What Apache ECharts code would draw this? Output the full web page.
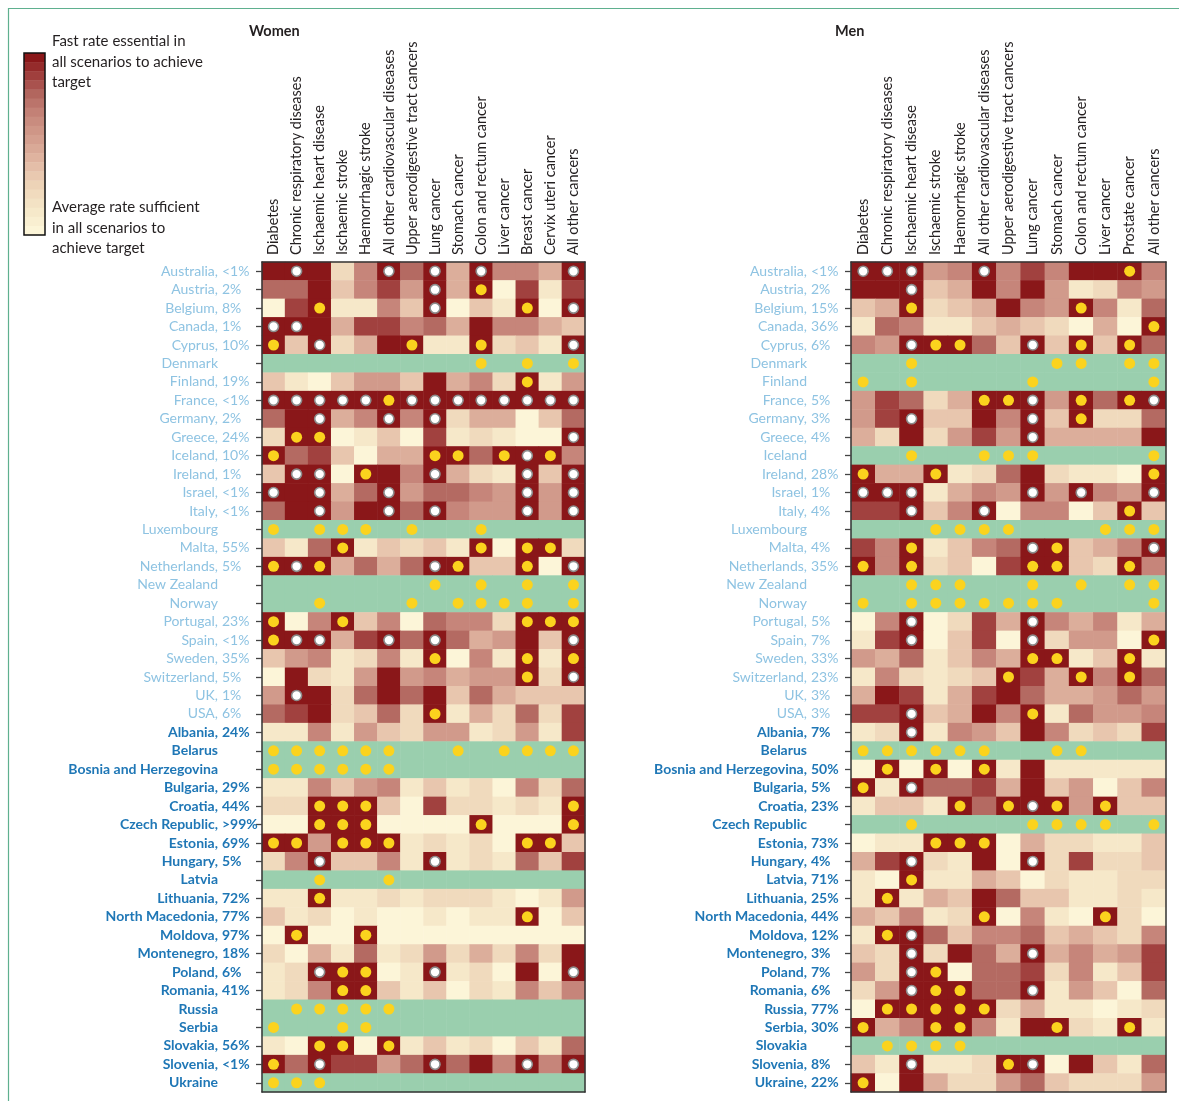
<!DOCTYPE html>
<html>
<head>
<meta charset="utf-8">
<script src="https://cdn.jsdelivr.net/npm/echarts@6/dist/echarts.min.js"></script>
<style>
  html, body { margin: 0; padding: 0; background: #fff; }
  #chart { width: 1179px; height: 1101px; }
</style>
</head>
<body>
<div id="chart"></div>
<script>
// causes (columns)
const womenCauses = ['Diabetes', 'Chronic respiratory diseases', 'Ischaemic heart disease', 'Ischaemic stroke',
  'Haemorrhagic stroke', 'All other cardiovascular diseases', 'Upper aerodigestive tract cancers', 'Lung cancer',
  'Stomach cancer', 'Colon and rectum cancer', 'Liver cancer', 'Breast cancer', 'Cervix uteri cancer', 'All other cancers']
const menCauses = ['Diabetes', 'Chronic respiratory diseases', 'Ischaemic heart disease', 'Ischaemic stroke',
  'Haemorrhagic stroke', 'All other cardiovascular diseases', 'Upper aerodigestive tract cancers', 'Lung cancer',
  'Stomach cancer', 'Colon and rectum cancer', 'Liver cancer', 'Prostate cancer', 'All other cancers']

// country labels (rows); first 25 are high-income countries
const highIncomeCount = 25
const womenLabels = ['Australia, <1%', 'Austria, 2%', 'Belgium, 8%', 'Canada, 1%', 'Cyprus, 10%', 'Denmark',
  'Finland, 19%', 'France, <1%', 'Germany, 2%', 'Greece, 24%', 'Iceland, 10%', 'Ireland, 1%', 'Israel, <1%',
  'Italy, <1%', 'Luxembourg', 'Malta, 55%', 'Netherlands, 5%', 'New Zealand', 'Norway', 'Portugal, 23%',
  'Spain, <1%', 'Sweden, 35%', 'Switzerland, 5%', 'UK, 1%', 'USA, 6%', 'Albania, 24%', 'Belarus',
  'Bosnia and Herzegovina', 'Bulgaria, 29%', 'Croatia, 44%', 'Czech Republic, >99%', 'Estonia, 69%',
  'Hungary, 5%', 'Latvia', 'Lithuania, 72%', 'North Macedonia, 77%', 'Moldova, 97%', 'Montenegro, 18%',
  'Poland, 6%', 'Romania, 41%', 'Russia', 'Serbia', 'Slovakia, 56%', 'Slovenia, <1%', 'Ukraine']
const menLabels = ['Australia, <1%', 'Austria, 2%', 'Belgium, 15%', 'Canada, 36%', 'Cyprus, 6%', 'Denmark',
  'Finland', 'France, 5%', 'Germany, 3%', 'Greece, 4%', 'Iceland', 'Ireland, 28%', 'Israel, 1%', 'Italy, 4%',
  'Luxembourg', 'Malta, 4%', 'Netherlands, 35%', 'New Zealand', 'Norway', 'Portugal, 5%', 'Spain, 7%',
  'Sweden, 33%', 'Switzerland, 23%', 'UK, 3%', 'USA, 3%', 'Albania, 7%', 'Belarus', 'Bosnia and Herzegovina, 50%',
  'Bulgaria, 5%', 'Croatia, 23%', 'Czech Republic', 'Estonia, 73%', 'Hungary, 4%', 'Latvia, 71%',
  'Lithuania, 25%', 'North Macedonia, 44%', 'Moldova, 12%', 'Montenegro, 3%', 'Poland, 7%', 'Romania, 6%',
  'Russia, 77%', 'Serbia, 30%', 'Slovakia', 'Slovenia, 8%', 'Ukraine, 22%']

// shade level per cell: 0 = average rate sufficient ... 9 = fast rate essential, g = green row
const womenShade = [
  '99926979496649', '77936859490818', '08911639031909', '99948867496643', '93924991192319',
  'gggggggggggggg', '31035539462915', '99999999999999', '79946969244037', '29901308121009',
  '97830449979996', '39909969421939', '99947957765959', '79959979655959', 'gggggggggggggg',
  '31791323190992', '99947479933909', 'gggggggggggggg', 'gggggggggggggg', '90693607662999',
  '99948979745939', '35612619061919', '09215956455929', '59927979374333', '78923729142728',
  '11615325512518', 'gggggggggggggg', 'gggggggggggggg', '11635613120627', '22999308221219',
  '00999000090009', '99599912120993', '26933619121738', 'gggggggggggggg', '11911212221015',
  '31201001011903', '09009000000000', '20417125242629', '12999019120909', '12699313021636',
  'gggggggggggggg', 'gggggggggggggg', '10990913120317', '97988579796969', 'gggggggggggggg'
]
// markers per cell: w = white dot, y = yellow dot
const womenMarks = [
  '.w...w.w.w...w', '.......w.y....', '..y....w...y.w', 'ww............', 'y.w...y..y...w',
  '.........y.y.y', '...........y..', 'wwwwwywwwwwwww', '..w..w.w......', '.yy..........w',
  'y......yy.ywy.', '.ww.y..w...w.w', 'w.w..w.....w.w', '..w..w.w...w.w', 'y.yyy.y..y....',
  '...y.....y.yy.', 'ywy....wy..y.w', '.......y.y.y.y', '..y...y.yyyy.y', 'y..y.......yyy',
  'yww..w.w.....w', '.......y...y.y', '...........y.w', '.w............', '.......y......',
  '..............', 'yyyyyy..y.yyyy', 'yyyyyy........', '..............', '..yyy........y',
  '..yyy....y...y', 'yy.yyy.....yy.', '..w....w......', '..y..y........', '..y...........',
  '...........y..', '.y..y.........', '..............', '..wyy..w.....w', '...yy.........',
  '.yyyyy........', 'y..yy.........', '..yy.y........', 'y.w....w...w.w', 'yyy...........'
]
const menShade = [
  '9995696869996', '9993496951265', '3492349659617', '1761134320409', '6599973939397',
  'ggggggggggggg', 'ggggggggggggg', '5872499959799', '5893396939227', '4292585944449',
  'ggggggggggggg', '9449127921109', '9991465959659', '8893690660393', 'ggggggggggggg',
  '8691367993469', '9692308993296', 'ggggggggggggg', 'ggggggggggggg', '0690284964614',
  '1890380925509', '5471364991391', '1621239849697', '4981489744575', '8893496917556',
  '1291653962328', 'ggggggggggggg', '0909091911111', '9197784935036', '1331979995933',
  'ggggggggggggg', '0119990422113', '4892190928223', '1091143021122', '1914397331121',
  '4361290610920', '1997366734326', '3292974946458', '5299077826138', '2599977915307',
  '0999992411012', '9469961992191', 'ggggggggggggg', '3191129909317', '9094225732225'
]
const menMarks = [
  'www..w.....y.', '..w..........', '..y......y...', '............y', '..wyy..w.y.y.',
  '..y.....yy.yy', 'y.y....y....y', '.....yyw.y.yw', '..w....w.y...', '.......w.....',
  '..y..yyy....y', 'y..y........y', 'www....w.w..w', '..w..w.....y.', '...yyyy...yyy',
  '..y....wy...w', 'y.y....yy..y.', '..yyy..y.y.yy', 'y.yyyyyyy...y', '..w....w.....',
  '..w....w....y', '.......yy..y.', '......y..y.y.', '.............', '..w....y.....',
  '..w..........', 'yyyyyy..yy...', '.y.y.y.......', 'y.w..........', '....y.ywy.y..',
  '..y....yyyy.y', '...yyy.......', '..w....w.....', '..y..........', '.y...........',
  '.....y....y..', '.yw..........', '..w....w.....', '..wy.........', '..wyy..w.....',
  '.yyyyy.......', 'y..yy...y..y.', '.yyyy........', '..w...yw.....', 'y............'
]

// colour scale, level 0 (cream) to 9 (dark red)
const palette = ['#fcf5d8', '#f6e8c9', '#f0dabd', '#e8c6ae', '#dcae9b', '#d19a8b', '#c6857a', '#b46a62', '#a1413f', '#8a1719']
const greenColor = '#9acfae'
const font = 'Lato'
const textColor = '#231f20'

function cells(shade) {
  const out = []
  shade.forEach((row, r) => {
    for (let c = 0; c < row.length; c++) {
      out.push([c, r, row[c] === 'g' ? -1 : Number(row[c])])
    }
  })
  return out
}

function marks(rows, kind) {
  const out = []
  rows.forEach((row, r) => {
    for (let c = 0; c < row.length; c++) {
      if (row[c] === kind) out.push([c, r])
    }
  })
  return out
}

// the label is split in two: the name (up to the comma) and the percentage after it
function namePart(value, index) {
  const i = value.indexOf(',')
  const s = i < 0 ? value : value.slice(0, i + 1)
  return (index < highIncomeCount ? '{a|' : '{b|') + s + '}'
}
function pctPart(value, index) {
  const i = value.indexOf(',')
  if (i < 0) return ''
  return (index < highIncomeCount ? '{a|' : '{b|') + value.slice(i + 1).trim() + '}'
}

const richLabels = {
  a: { color: '#8ec3e2', fontSize: 14, fontFamily: font },
  b: { color: '#1f77b6', fontSize: 14, fontFamily: font, fontWeight: 'bold' }
}

const lineStyle = { color: '#333', width: 1.5 }

function axesFor(gi, causes, labels, pctMargin) {
  const x = [
    {
      gridIndex: gi, type: 'category', data: causes, position: 'top', z: 10,
      axisLine: { show: true, lineStyle },
      axisTick: { show: false },
      axisLabel: { rotate: -90, interval: 0, margin: 7, fontSize: 14.5, fontFamily: font, color: textColor }
    },
    {
      gridIndex: gi, type: 'category', data: causes, position: 'bottom', z: 10,
      axisLine: { show: true, lineStyle }, axisTick: { show: false }, axisLabel: { show: false }
    }
  ]
  const y = [
    {
      gridIndex: gi, type: 'category', data: labels, inverse: true, position: 'left', z: 10,
      axisLine: { show: true, lineStyle },
      axisTick: { show: true, alignWithLabel: true, length: 6, lineStyle: { color: '#444', width: 1.3 } },
      axisLabel: { interval: 0, margin: 44, formatter: namePart, rich: richLabels }
    },
    {
      gridIndex: gi, type: 'category', data: labels, inverse: true, position: 'left', z: 10,
      axisLine: { show: false }, axisTick: { show: false },
      axisLabel: { interval: 0, margin: pctMargin, align: 'left', formatter: pctPart, rich: richLabels }
    },
    {
      gridIndex: gi, type: 'category', data: labels, inverse: true, position: 'right', z: 10,
      axisLine: { show: true, lineStyle }, axisTick: { show: false }, axisLabel: { show: false }
    }
  ]
  return { x, y }
}

const wAx = axesFor(0, womenCauses, womenLabels, 40)
const mAx = axesFor(1, menCauses, menLabels, 40)

function markSeries(data, xi, yi, white) {
  return {
    type: 'scatter', xAxisIndex: xi, yAxisIndex: yi, data, z: 5,
    symbol: 'circle', symbolSize: white ? 10 : 11,
    itemStyle: white
      ? { color: '#ffffff', borderColor: '#8c8c8c', borderWidth: 1.6, opacity: 1 }
      : { color: '#fbd31e', opacity: 1 }
  }
}

// legend colour bar (20 steps, dark at top)
const legendBar = []
const steps = 20
for (let i = 0; i < steps; i++) {
  legendBar.push({
    type: 'rect',
    shape: { x: 24, y: 53 + i * 182 / steps, width: 21, height: 182 / steps + 0.5 },
    style: { fill: echarts.color.lerp(1 - i / (steps - 1), palette) }
  })
}

const chart = echarts.init(document.getElementById('chart'))
chart.setOption({
  animation: false,
  backgroundColor: '#fff',
  title: [
    { text: 'Women', left: 249, top: 24, padding: 0, textStyle: { fontSize: 14.5, fontWeight: 'bold', color: textColor, fontFamily: font } },
    { text: 'Men', left: 835, top: 24, padding: 0, textStyle: { fontSize: 14.5, fontWeight: 'bold', color: textColor, fontFamily: font } }
  ],
  grid: [
    { left: 262, top: 262, width: 323, height: 830 },
    { left: 851, top: 262, width: 315, height: 830 }
  ],
  xAxis: wAx.x.concat(mAx.x),
  yAxis: wAx.y.concat(mAx.y),
  visualMap: {
    type: 'piecewise', show: false, dimension: 2, seriesIndex: [0, 3],
    pieces: [{ value: -1, color: greenColor }].concat(palette.map((c, i) => ({ value: i, color: c })))
  },
  series: [
    { type: 'heatmap', xAxisIndex: 0, yAxisIndex: 0, data: cells(womenShade), itemStyle: { borderWidth: 0 } },
    markSeries(marks(womenMarks, 'w'), 0, 0, true),
    markSeries(marks(womenMarks, 'y'), 0, 0, false),
    { type: 'heatmap', xAxisIndex: 2, yAxisIndex: 3, data: cells(menShade), itemStyle: { borderWidth: 0 } },
    markSeries(marks(menMarks, 'w'), 2, 3, true),
    markSeries(marks(menMarks, 'y'), 2, 3, false)
  ],
  graphic: [
    { type: 'line', shape: { x1: 8.5, y1: 8, x2: 8.5, y2: 1101 }, style: { stroke: '#5fb08f', lineWidth: 1.2 } },
    { type: 'line', shape: { x1: 8, y1: 8.5, x2: 1179, y2: 8.5 }, style: { stroke: '#5fb08f', lineWidth: 1.2 } },
    ...legendBar,
    { type: 'rect', shape: { x: 24, y: 53, width: 21, height: 182 }, style: { fill: 'none', stroke: '#111', lineWidth: 1.5 } },
    {
      type: 'text', x: 52, y: 31,
      style: { text: 'Fast rate essential in\nall scenarios to achieve\ntarget', font: '15px Lato', fill: textColor, lineHeight: 20.5 }
    },
    {
      type: 'text', x: 52, y: 197,
      style: { text: 'Average rate sufficient\nin all scenarios to\nachieve target', font: '15px Lato', fill: textColor, lineHeight: 20.5 }
    }
  ]
})
</script>
</body>
</html>
